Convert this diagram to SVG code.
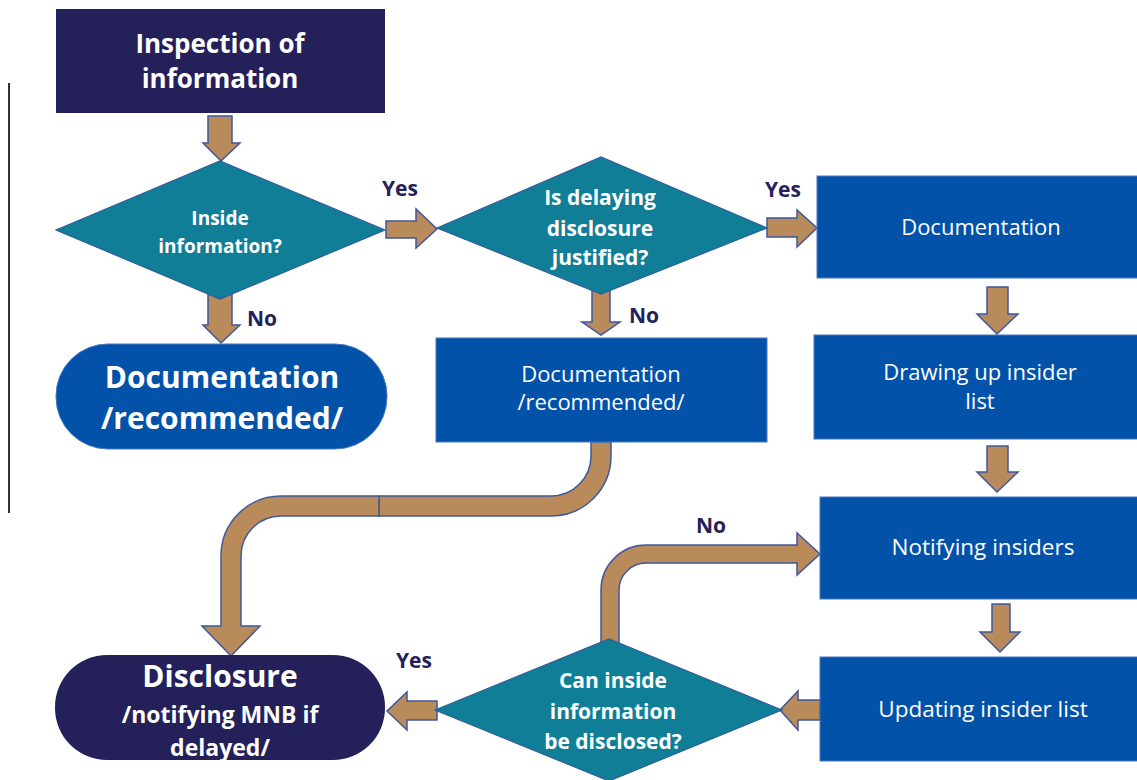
<svg xmlns="http://www.w3.org/2000/svg" width="1137" height="780" viewBox="0 0 1137 780">
<style>
.navy{fill:#24215a}
.blue{fill:#0152a8;stroke:#4a78c0;stroke-width:1}
.teal{fill:#117e98;stroke:#2e5d9c;stroke-width:1.2}
.arr{fill:#b98a5a;stroke:#3f589c;stroke-width:1.5;stroke-linejoin:miter}
.tb{font-family:'Open Sans','Liberation Sans',sans-serif;font-weight:bold;fill:#fff;text-anchor:middle}
.tr{font-family:'Open Sans','Liberation Sans',sans-serif;fill:#fff;text-anchor:middle}
.lbl{font-family:'Open Sans','Liberation Sans',sans-serif;font-weight:bold;fill:#24215a;text-anchor:middle;font-size:21px}
</style>
<rect width="1137" height="780" fill="#fff"/>
<line x1="9" y1="83" x2="9" y2="513" stroke="#333" stroke-width="2"/>
<g id="connectors">
<polygon class="arr" points="208,116 232,116 232,143 240,143 221,161 203,143 208,143"/>
<polygon class="arr" points="208,292 232,292 232,325 240,325 221,343 203,325 208,325"/>
<polygon class="arr" points="386,221 416,221 416,209 437,229 416,248 416,238 386,238"/>
<polygon class="arr" points="767,218 797,218 797,210 817,228 797,247 797,237 767,237"/>
<polygon class="arr" points="592,290 610,290 610,322 620,322 601,335 582,322 592,322"/>
<polygon class="arr" points="987,287 1008,287 1008,314 1018,314 997,334 977,314 987,314"/>
<polygon class="arr" points="987,446 1008,446 1008,472 1018,472 997,492 977,472 987,472"/>
<polygon class="arr" points="992,604 1010,604 1010,632 1020,632 1000,652 980,632 992,632"/>
<polygon class="arr" points="820,700 798,700 798,691 780,710 798,730 798,720 820,720"/>
<polygon class="arr" points="437,701 407,701 407,692 387,711 407,730 407,720 437,720"/>
<path class="arr" d="M591,442 H611 V456 A60,60 0 0 1 551,516 H379 V496 H551 A40,40 0 0 0 591,456 Z"/>
<path class="arr" d="M379,496 V516 H281 A40,40 0 0 0 241,556 V626 H260 L231,656 L202,626 H221 V556 A60,60 0 0 1 281,496 Z"/>
<path class="arr" d="M601,645 V590 A45,45 0 0 1 646,545 H797 V533 L820,554 L797,575 V563 H646 A27,27 0 0 0 619,590 V645 Z"/>
</g>
<g id="n-inspection">
<rect class="navy" x="56" y="9" width="329" height="104"/>
<text class="tb" font-size="26" x="220" y="53">Inspection of</text>
<text class="tb" font-size="26" x="220" y="88">information</text>
</g>
<g id="n-inside">
<polygon class="teal" points="56,230 220,161 385,230 220,299"/>
<text class="tb" font-size="19" x="220" y="225">Inside</text>
<text class="tb" font-size="19" x="220" y="253">information?</text>
</g>
<g id="n-doc-rec-term">
<rect x="56" y="344" width="331" height="105" rx="52" fill="#0152a8" stroke="#4a78c0"/>
<text class="tb" font-size="30" x="222" y="388">Documentation</text>
<text class="tb" font-size="30" x="222" y="429">/recommended/</text>
</g>
<g id="n-delay">
<polygon class="teal" points="437,228 601,157 767,228 601,294"/>
<text class="tb" font-size="21" x="600" y="205">Is delaying</text>
<text class="tb" font-size="21" x="600" y="236">disclosure</text>
<text class="tb" font-size="21" x="600" y="265">justified?</text>
</g>
<g id="n-doc-rec-box">
<rect class="blue" x="436" y="338" width="331" height="104"/>
<text class="tr" font-size="22" x="601" y="382">Documentation</text>
<text class="tr" font-size="22" x="601" y="410">/recommended/</text>
</g>
<g id="n-documentation">
<rect class="blue" x="817" y="176" width="325" height="102"/>
<text class="tr" font-size="22" x="981" y="235">Documentation</text>
</g>
<g id="n-drawing">
<rect class="blue" x="814" y="335" width="328" height="104"/>
<text class="tr" font-size="22" x="980" y="380">Drawing up insider</text>
<text class="tr" font-size="22" x="980" y="409">list</text>
</g>
<g id="n-notifying">
<rect class="blue" x="820" y="497" width="322" height="102"/>
<text class="tr" font-size="22.5" x="983" y="555">Notifying insiders</text>
</g>
<g id="n-updating">
<rect class="blue" x="820" y="657" width="322" height="104"/>
<text class="tr" font-size="22.5" x="983" y="717">Updating insider list</text>
</g>
<g id="n-can">
<polygon class="teal" points="435,710 609,639 782,710 609,781"/>
<text class="tb" font-size="21" x="613" y="688">Can inside</text>
<text class="tb" font-size="21" x="613" y="719">information</text>
<text class="tb" font-size="21" x="613" y="749">be disclosed?</text>
</g>
<g id="n-disclosure">
<rect class="navy" x="55" y="655" width="330" height="105" rx="52"/>
<text class="tb" font-size="30" x="220" y="687">Disclosure</text>
<text class="tb" font-size="23" x="220" y="723">/notifying MNB if</text>
<text class="tb" font-size="23" x="220" y="756">delayed/</text>
</g>
<g id="labels">
<text class="lbl" x="400" y="196">Yes</text>
<text class="lbl" x="783" y="197">Yes</text>
<text class="lbl" x="262" y="326">No</text>
<text class="lbl" x="644" y="323">No</text>
<text class="lbl" x="711" y="533">No</text>
<text class="lbl" x="414" y="668">Yes</text>
</g>
</svg>
